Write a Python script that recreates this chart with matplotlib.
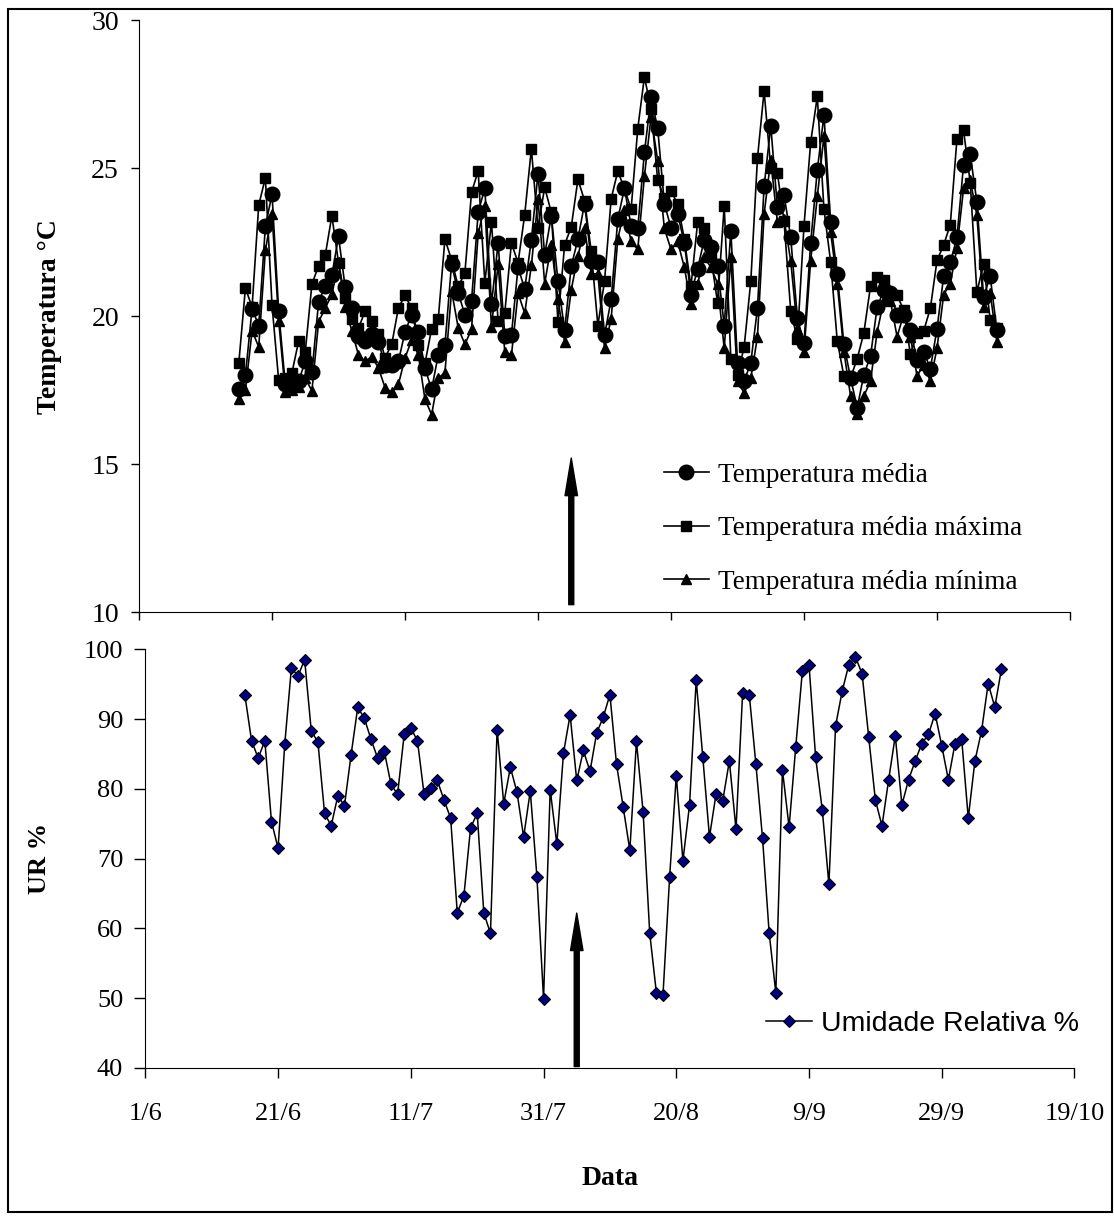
import matplotlib
matplotlib.use("Agg")
import matplotlib.pyplot as plt
import numpy as np
from matplotlib.patches import Rectangle

plt.rcParams['font.family'] = ['Liberation Serif', 'DejaVu Serif']

# days counted from 1 June (16/6 ... 8/10)
days = np.arange(15, 130)

t_media = [17.55, 18.0, 20.25, 19.68, 23.03, 24.12, 20.16, 17.69, 17.7, 17.8,
           18.47, 18.1, 20.47, 21.02, 21.38, 22.69, 20.97, 20.27, 19.32, 19.15,
           19.41, 19.13, 18.36, 18.36, 18.47, 19.46, 20.05, 19.46, 18.24, 17.52,
           18.69, 19.02, 21.76, 20.78, 20.05, 20.51, 23.5, 24.32, 20.4, 22.47,
           19.33, 19.37, 21.65, 20.91, 22.58, 24.81, 22.07, 23.39, 21.18, 19.52,
           21.68, 22.6, 23.8, 21.87, 21.82, 19.35, 20.56, 23.28, 24.32, 23.04,
           22.96, 25.53, 27.39, 26.34, 23.8, 22.98, 23.45, 22.47, 20.72, 21.6,
           22.58, 22.33, 21.68, 19.68, 22.88, 18.41, 17.8, 18.43, 20.26, 24.38,
           26.43, 23.67, 24.1, 22.66, 19.94, 19.08, 22.47, 24.93, 26.79, 23.18,
           21.43, 19.04, 17.91, 16.9, 18.02, 18.65, 20.29, 20.89, 20.78, 20.04,
           20.04, 19.52, 18.52, 18.8, 18.22, 19.57, 21.34, 21.81, 22.66, 25.12,
           25.46, 23.85, 20.65, 21.34, 19.52]

t_max = [18.4, 20.95, 20.3, 23.75, 24.67, 20.37, 17.83, 17.9, 18.09, 19.15,
         18.8, 21.08, 21.7, 22.05, 23.39, 21.8, 20.6, 19.9, 19.6, 20.16,
         19.85, 19.4, 18.6, 19.04, 20.27, 20.7, 20.26, 19.02, 18.4, 19.57,
         19.9, 22.6, 21.9, 21.0, 21.45, 24.18, 24.9, 21.13, 23.18, 19.83,
         20.1, 22.47, 21.8, 23.43, 25.65, 22.98, 24.35, 23.5, 19.8, 22.41,
         23.01, 24.62, 23.9, 22.2, 19.68, 21.18, 23.96, 24.9, 24.3, 23.61,
         26.33, 28.08, 27.0, 24.59, 24.0, 24.21, 23.8, 22.6, 21.0, 23.17,
         22.98, 22.0, 20.45, 23.72, 18.55, 18.0, 18.96, 21.18, 25.33, 27.61,
         25.0, 24.83, 23.2, 20.18, 19.22, 23.05, 25.87, 27.42, 23.61, 21.84,
         19.16, 17.97, 17.91, 18.56, 19.43, 21.01, 21.31, 21.21, 20.72, 20.7,
         20.2, 18.71, 19.43, 19.5, 20.26, 21.88, 22.4, 23.09, 25.99, 26.27,
         24.5, 20.8, 21.77, 19.88, 19.6]

t_min = [17.2, 17.5, 19.5, 18.96, 22.23, 23.45, 19.85, 17.42, 17.5, 17.6,
         17.9, 17.47, 19.8, 20.27, 20.73, 21.81, 20.3, 19.5, 18.69, 18.47,
         18.63, 18.25, 17.58, 17.42, 17.69, 18.58, 19.2, 18.69, 17.19, 16.67,
         17.91, 18.08, 20.86, 19.6, 19.05, 19.55, 22.79, 23.72, 19.63, 21.76,
         18.78, 18.67, 20.78, 20.09, 21.71, 23.94, 21.1, 22.41, 20.56, 19.13,
         20.89, 22.03, 22.96, 21.43, 21.43, 18.91, 19.91, 22.61, 23.6, 22.52,
         22.25, 24.72, 26.74, 25.25, 22.96, 22.25, 22.52, 21.65, 20.4, 21.1,
         21.98, 21.65, 21.1, 18.91, 21.98, 17.8, 17.4, 17.9, 19.3, 23.45,
         25.28, 23.17, 23.28, 21.87, 19.57, 18.8, 21.87, 24.04, 26.08, 22.85,
         21.1, 18.8, 17.3, 16.7, 17.3, 17.8, 19.46, 20.54, 20.51, 19.3,
         20.07, 19.3, 17.97, 18.36, 17.8, 18.91, 20.72, 21.1, 22.3, 24.32,
         24.59, 23.4, 20.32, 20.78, 19.13]

umidade = [93.4, 86.9, 84.4, 86.9, 75.3, 71.5, 86.4, 97.3, 96.2, 98.5,
           88.3, 86.7, 76.5, 74.7, 79.0, 77.6, 84.9, 91.7, 90.1, 87.1,
           84.4, 85.4, 80.7, 79.2, 87.8, 88.7, 86.9, 79.2, 80.1, 81.2,
           78.4, 75.8, 62.2, 64.7, 74.4, 76.5, 62.2, 59.3, 88.5, 77.9,
           83.1, 79.5, 73.1, 79.7, 67.4, 49.9, 79.9, 72.1, 85.1, 90.6,
           81.2, 85.5, 82.5, 88.0, 90.3, 93.5, 83.5, 77.4, 71.2, 86.8,
           76.7, 59.3, 50.8, 50.5, 67.4, 81.9, 69.7, 77.7, 95.6, 84.5,
           73.1, 79.3, 78.3, 84.0, 74.2, 93.8, 93.5, 83.5, 72.9, 59.3,
           50.8, 82.7, 74.5, 86.0, 96.9, 97.8, 84.5, 77.0, 66.3, 89.0,
           94.0, 97.8, 98.9, 96.5, 87.4, 78.4, 74.7, 81.3, 87.6, 77.7,
           81.3, 84.0, 86.5, 87.8, 90.8, 86.2, 81.3, 86.5, 87.2, 75.8,
           84.0, 88.3, 95.1, 91.7, 97.2]

tick_days = [0, 20, 40, 60, 80, 100, 120, 140]
tick_labels = ['1/6', '21/6', '11/7', '31/7', '20/8', '9/9', '29/9', '19/10']

arrow_day = 65

fig = plt.figure(figsize=(11.14, 12.18), dpi=100)

# outer frame
fig.patches.append(Rectangle((0.007, 0.005), 0.991, 0.988, transform=fig.transFigure,
                             fill=False, edgecolor='black', linewidth=1.5))

# ---- temperature panel
ax1 = fig.add_axes([0.1248, 0.4975, 0.8357, 0.486])
ax1.plot(days, t_media, '-o', color='black', lw=1.2, ms=10.5, label='Temperatura média', zorder=3)
ax1.plot(days, t_max, '-s', color='black', lw=1.2, ms=6.5, label='Temperatura média máxima', zorder=2)
ax1.plot(days, t_min, '-^', color='black', lw=1.2, ms=7.5, label='Temperatura média mínima', zorder=2)
ax1.set_xlim(0, 140)
ax1.set_ylim(10, 30)
ax1.set_yticks([10, 15, 20, 25, 30])
ax1.set_xticks(tick_days)
ax1.set_xticklabels([])
ax1.tick_params(direction='out', length=5.5, width=1, labelsize=20, pad=9)
for s in ['top', 'right']:
    ax1.spines[s].set_visible(False)
ax1.set_ylabel('Temperatura °C', fontsize=20, fontweight='bold')
ax1.yaxis.set_label_coords(-0.083, 0.5)
ax1.annotate('', xy=(arrow_day, 15.2), xytext=(arrow_day, 10.25),
             arrowprops=dict(width=3.6, headwidth=9, headlength=27, color='black', shrink=0))
ax1.legend(loc='upper left', bbox_to_anchor=(0.574, 0.640), bbox_transform=fig.transFigure,
           frameon=False, fontsize=19.5, handlelength=1.67, handletextpad=0.33, labelspacing=1.05)

# ---- relative humidity panel
ax2 = fig.add_axes([0.1305, 0.1232, 0.834, 0.3437])
ax2.plot(days, umidade, '-D', color='black', lw=1.1, ms=6, mfc='#000080', mec='black', mew=0.8,
         label='Umidade Relativa %')
ax2.set_xlim(0, 140)
ax2.set_ylim(40, 100)
ax2.set_yticks(range(40, 101, 10))
ax2.set_xticks(tick_days)
ax2.set_xticklabels(tick_labels)
ax2.tick_params(axis='y', direction='out', length=8, width=1, labelsize=19, pad=8)
ax2.tick_params(axis='x', direction='out', length=7, width=1, labelsize=19, pad=18)
for s in ['top', 'right']:
    ax2.spines[s].set_visible(False)
ax2.set_ylabel('UR %', fontsize=19, fontweight='bold')
ax2.yaxis.set_label_coords(-0.102, 0.5)
ax2.set_xlabel('Data', fontsize=20, fontweight='bold', labelpad=30)
ax2.annotate('', xy=(arrow_day, 62.2), xytext=(arrow_day, 40.2),
             arrowprops=dict(width=3.6, headwidth=9, headlength=27, color='black', shrink=0))
ax2.legend(loc='upper left', bbox_to_anchor=(0.665, 0.191), bbox_transform=fig.transFigure,
           frameon=False, handlelength=1.6, handletextpad=0.31,
           prop={'family': 'Liberation Sans', 'size': 20.5})

fig.savefig('out.png', dpi=100)
